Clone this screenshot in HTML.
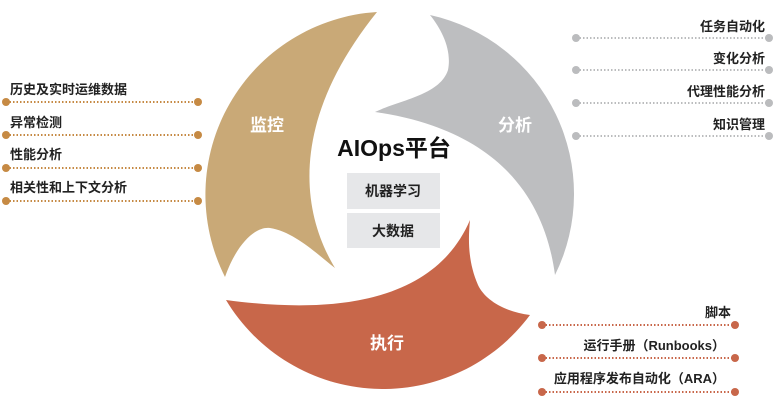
<!DOCTYPE html>
<html><head><meta charset="utf-8"><style>
body{margin:0;background:#fff;}
svg{display:block}
text{font-family:"Liberation Sans","Noto Sans CJK SC",sans-serif;}
.l{font-size:13px;font-weight:bold;fill:#222}
</style></head><body>
<svg width="780" height="403" viewBox="0 0 780 403">
<!-- gold -->
<path d="M377,12 A183,183 0 0 0 225,277 C238,240 258,226 270,228 C295,232 318,255 335,268 C300,210 290,120 377,12 Z" fill="#c9a977"/>
<!-- gray -->
<path d="M430,15 A183,183 0 0 1 555,275 C545,200 500,130 375,112 C400,100 440,95 448,70 C452,50 442,30 430,15 Z" fill="#bdbec0"/>
<!-- red -->
<path d="M226,300 A183,183 0 0 0 530,315 C505,312 485,300 478,285 C468,262 468,240 470,220 C440,290 360,318 226,300 Z" fill="#c8674a"/>
<text x="267" y="131" font-size="17" font-weight="bold" fill="#fff" text-anchor="middle">监控</text>
<text x="515" y="131" font-size="17" font-weight="bold" fill="#fff" text-anchor="middle">分析</text>
<text x="387" y="349" font-size="17" font-weight="bold" fill="#fff" text-anchor="middle">执行</text>
<text x="394" y="156" font-size="23" font-weight="bold" fill="#111" text-anchor="middle">AIOps平台</text>
<rect x="347" y="173" width="93" height="36" fill="#e6e7e9"/>
<rect x="347" y="213" width="93" height="35" fill="#e6e7e9"/>
<text x="393" y="196" font-size="14" font-weight="bold" fill="#222" text-anchor="middle">机器学习</text>
<text x="393" y="236" font-size="14" font-weight="bold" fill="#222" text-anchor="middle">大数据</text>
<g stroke="#c68a44" stroke-width="2" stroke-dasharray="1.5 2" fill="#c68a44">
<line x1="6" y1="102" x2="198" y2="102"/><line x1="6" y1="135" x2="198" y2="135"/><line x1="6" y1="168" x2="198" y2="168"/><line x1="6" y1="201" x2="198" y2="201"/>
</g>
<g fill="#c68a44">
<circle cx="6" cy="102" r="4"/><circle cx="198" cy="102" r="4"/><circle cx="6" cy="135" r="4"/><circle cx="198" cy="135" r="4"/><circle cx="6" cy="168" r="4"/><circle cx="198" cy="168" r="4"/><circle cx="6" cy="201" r="4"/><circle cx="198" cy="201" r="4"/>
</g>
<text class="l" x="10" y="94">历史及实时运维数据</text>
<text class="l" x="10" y="127">异常检测</text>
<text class="l" x="10" y="159">性能分析</text>
<text class="l" x="10" y="192">相关性和上下文分析</text>
<g stroke="#bbbcbe" stroke-width="2" stroke-dasharray="1.5 2">
<line x1="576" y1="38" x2="769" y2="38"/><line x1="576" y1="70" x2="769" y2="70"/><line x1="576" y1="103" x2="769" y2="103"/><line x1="576" y1="136" x2="769" y2="136"/>
</g>
<g fill="#bbbcbe">
<circle cx="576" cy="38" r="4"/><circle cx="769" cy="38" r="4"/><circle cx="576" cy="70" r="4"/><circle cx="769" cy="70" r="4"/><circle cx="576" cy="103" r="4"/><circle cx="769" cy="103" r="4"/><circle cx="576" cy="136" r="4"/><circle cx="769" cy="136" r="4"/>
</g>
<g class="l" text-anchor="end">
<text class="l" x="765" y="31">任务自动化</text>
<text class="l" x="765" y="63">变化分析</text>
<text class="l" x="765" y="96">代理性能分析</text>
<text class="l" x="765" y="129">知识管理</text>
</g>
<g stroke="#c8674a" stroke-width="2" stroke-dasharray="1.5 2">
<line x1="542" y1="325" x2="735" y2="325"/><line x1="542" y1="358" x2="735" y2="358"/><line x1="542" y1="392" x2="735" y2="392"/>
</g>
<g fill="#c8674a">
<circle cx="542" cy="325" r="4"/><circle cx="735" cy="325" r="4"/><circle cx="542" cy="358" r="4"/><circle cx="735" cy="358" r="4"/><circle cx="542" cy="392" r="4"/><circle cx="735" cy="392" r="4"/>
</g>
<g text-anchor="end">
<text class="l" x="731" y="317">脚本</text>
<text class="l" x="725" y="350">运行手册（Runbooks）</text>
<text class="l" x="725" y="383">应用程序发布自动化（ARA）</text>
</g>
</svg>
</body></html>
